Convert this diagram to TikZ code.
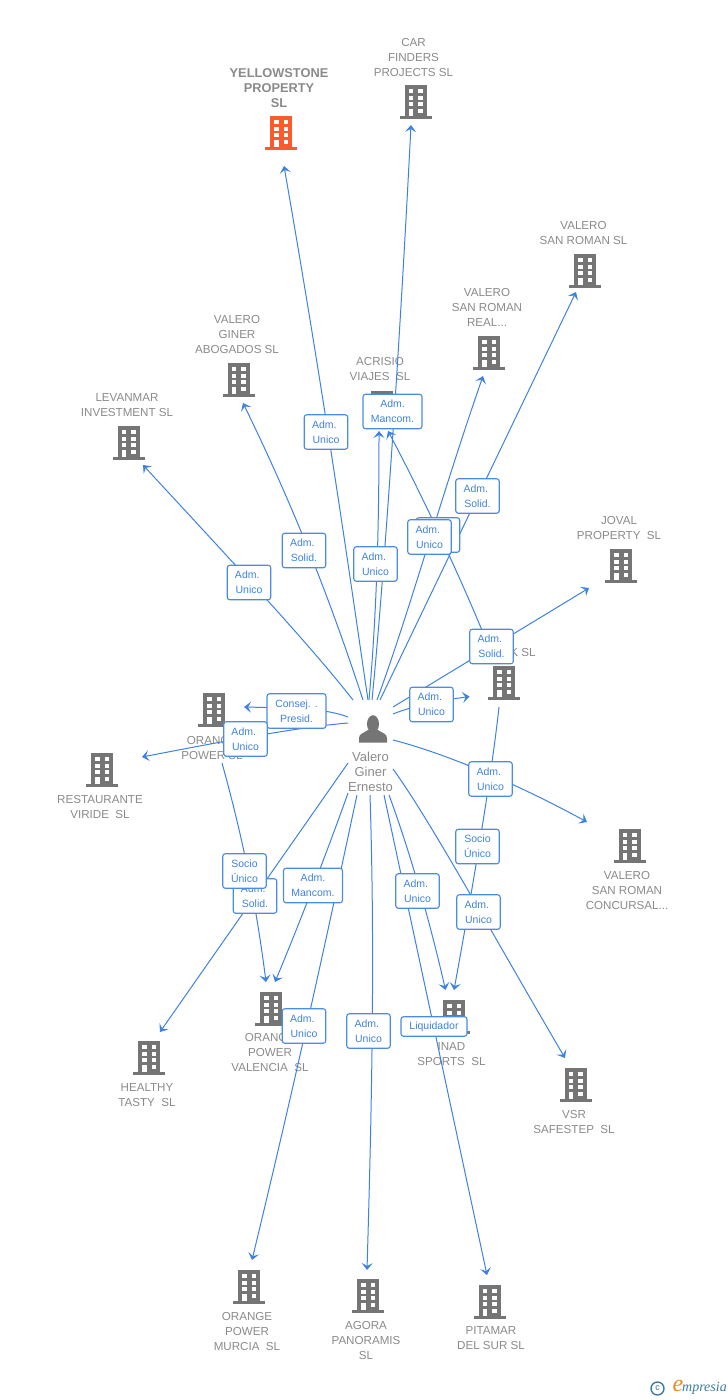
\documentclass[tikz,border=0pt]{standalone}
\usepackage{fontspec}
\setmainfont{Liberation Sans}
\newfontfamily\logoserif{Liberation Serif}
\usetikzlibrary{arrows.meta}
\definecolor{iconcol}{HTML}{757575}
\definecolor{hotcol}{HTML}{FF5A2B}
\definecolor{txtcol}{HTML}{8A8A8A}
\definecolor{linkcol}{HTML}{3D82E0}
\definecolor{boxcol}{HTML}{4A8BE3}
\definecolor{boxtxt}{HTML}{3F83DF}
\definecolor{logoblue}{HTML}{3A7C9E}
\definecolor{logoorange}{HTML}{F0861E}
\newcommand\Adm{Adm.\hspace*{3.5pt}}
\tikzset{
  conn/.style={draw=linkcol,line width=1pt,-{Stealth[width=11pt,length=7pt,inset=3pt]}},
  relbox/.style={draw=boxcol,line width=1.1pt,fill=white,rounded corners=2.5pt,inner sep=0pt,
    minimum width=43.5pt,minimum height=34.5pt,align=center,text=boxtxt,
    font=\fontsize{10.5}{15}\selectfont},
  widebox/.style={relbox,minimum width=59pt},
  liqbox/.style={relbox,minimum width=66pt,minimum height=19.5pt},
  namelbl/.style={text=txtcol,align=center,inner sep=0pt,yshift=-0.7pt,font=\fontsize{11.6}{15}\selectfont},
  boldlbl/.style={namelbl,font=\fontsize{12.8}{15}\selectfont\bfseries},
  perlbl/.style={namelbl,font=\fontsize{13}{15}\selectfont},
  bldnode/.style={minimum width=32pt,minimum height=34pt,inner sep=0pt},
  pics/bld/.style={code={
    \fill[#1] (-11,-17) rectangle (11,15);
    \fill[#1] (-16,14) rectangle (16,17);
    \foreach \yy in {-13,-6.5,0}{
      \fill[white] (-7,\yy) rectangle (-2.5,\yy+4);
      \fill[white] (2.5,\yy) rectangle (7,\yy+4);
    }
    \fill[white] (-7,6.5) rectangle (-2.5,14);
    \fill[white] (2.5,6.5) rectangle (7,10.5);
  }}
}
\begin{document}
\begin{tikzpicture}[x=1pt,y=-1pt]
\useasboundingbox (0,0) rectangle (728,1400);
% buildings
\foreach \nm/\cx/\cy/\cl in {
  byellow/281/133/hotcol, bcar/415.5/102/iconcol, bsrsl/585/271/iconcol, breal/489/353/iconcol,
  bginer/238.5/380/iconcol, bacrisio/382/408/iconcol, blevan/128.5/443/iconcol, bjoval/621/566/iconcol,
  bk/504/683/iconcol, borange/214/710/iconcol, brest/102/770/iconcol, bconc/629.5/846/iconcol,
  bvalencia/271/1009/iconcol, binad/454/1017/iconcol, bhealthy/149/1058/iconcol, bvsr/575.5/1085/iconcol,
  bmurcia/249/1287/iconcol, bagora/368/1296/iconcol, bpitamar/489.5/1302/iconcol}{
  \node[bldnode] (\nm) at (\cx,\cy) {};
  \pic at (\cx,\cy) {bld=\cl};
}
% names
\node[boldlbl] (lyellow) at (279,87) {YELLOWSTONE\\PROPERTY\\SL};
\node[namelbl] (lcar) at (413.5,57) {CAR\\FINDERS\\PROJECTS SL};
\node[namelbl] (lsrsl) at (583.5,232.5) {VALERO\\SAN ROMAN SL};
\node[namelbl] (lreal) at (487,307) {VALERO\\SAN ROMAN\\REAL...};
\node[namelbl] (lginer) at (237,334) {VALERO\\GINER\\ABOGADOS SL};
\node[namelbl] (lacrisio) at (380,368.5) {ACRISIO\\VIAJES\ \ SL};
\node[namelbl] (llevan) at (127,404.5) {LEVANMAR\\INVESTMENT SL};
\node[namelbl] (ljoval) at (619,527.5) {JOVAL\\PROPERTY\ \ SL};
\node[namelbl] (lk) at (523,652) {K SL};
\node[namelbl] (lorange) at (212,747) {ORANGE\\POWER SL};
\node[namelbl] (lrest) at (100,806.5) {RESTAURANTE\\VIRIDE\ \ SL};
\node[namelbl] (lconc) at (627,890) {VALERO\\SAN ROMAN\\CONCURSAL...};
\node[namelbl] (lvalencia) at (270,1052) {ORANGE\\POWER\\VALENCIA\ \ SL};
\node[namelbl] (linad) at (451.5,1053.5) {INAD\\SPORTS\ \ SL};
\node[namelbl] (lhealthy) at (147,1094.5) {HEALTHY\\TASTY\ \ SL};
\node[namelbl] (lvsr) at (574,1121.5) {VSR\\SAFESTEP\ \ SL};
\node[namelbl] (lmurcia) at (247,1331) {ORANGE\\POWER\\MURCIA\ \ SL};
\node[namelbl] (lagora) at (366,1340) {AGORA\\PANORAMIS\\SL};
\node[namelbl] (lpitamar) at (491,1337.5) {PITAMAR\\DEL SUR SL};
% person
\node[minimum width=28pt,minimum height=28pt,inner sep=0pt] (person) at (373,729) {};
\fill[iconcol] (373,724) ellipse (6 and 8.8);
\fill[iconcol] (359,742.5) -- (359,738) .. controls (359,733.5) and (364,733) .. (368,730) -- (378,730)
  .. controls (382,733) and (387,733.5) .. (387,738) -- (387,742.5) -- cycle;
\node[perlbl] (lperson) at (370.5,771) {Valero\\Giner\\Ernesto};
% connector ends
\foreach \nm/\xx/\yy in {
  s1/368/700, e1/284/166, s2/372/700, e2/411/125, s3/369/700, e3/379/431, s4/363/700, e4/243/403,
  s5/353/700, e5/143/465, s6/377/700, e6/483/376, s7/380/700, e7/576/292, s8/488/645, e8/388/431,
  s9/393/707, e9/589/588, s10/393/714, e10/469.5/696.5, s11/499/707, e11/454/990, s12/393/740, e12/587/822,
  s13/393/769, e13/565/1058, s14/384/795, e14/487/1275, s15/389/795, e15/445.5/990, s16/370/795, e16/367/1270,
  s17/357/795, e17/252/1260, s18/348/793, e18/275/982, s19/222/763, e19/266/982, s20/348/763, e20/160/1032,
  s21/348/717, e21/244/707, s22/348/723, e22/142/757}{
  \coordinate (\nm) at (\xx,\yy);
}
% connectors
\draw[conn] (s1) .. controls (356,620) and (330,430) .. (e1);
\draw[conn] (s2) .. controls (382,600) and (398,380) .. (e2);
\draw[conn] (s3) .. controls (376,620) and (379,540) .. (e3);
\draw[conn] (s4) .. controls (340,630) and (305,530) .. (e4);
\draw[conn] (s5) .. controls (310,645) and (240,570) .. (e5);
\draw[conn] (s6) .. controls (410,610) and (440,500) .. (e6);
\draw[conn] (s7) -- (e7);
\draw[conn] (s8) .. controls (470,600) and (430,510) .. (e8);
\draw[conn] (s9) -- (e9);
\draw[conn] (s10) .. controls (415,705) and (445,700) .. (e10);
\draw[conn] (s11) .. controls (490,790) and (465,930) .. (e11);
\draw[conn] (s12) .. controls (440,752) and (510,780) .. (e12);
\draw[conn] (s13) .. controls (430,820) and (490,930) .. (e13);
\draw[conn] (s14) -- (e14);
\draw[conn] (s15) .. controls (402,830) and (425,900) .. (e15);
\draw[conn] (s16) .. controls (375,950) and (372,1100) .. (e16);
\draw[conn] (s17) .. controls (345,850) and (310,1020) .. (e17);
\draw[conn] (s18) .. controls (335,830) and (305,910) .. (e18);
\draw[conn] (s19) .. controls (235,810) and (253,880) .. (e19);
\draw[conn] (s20) -- (e20);
\draw[conn] (s21) .. controls (325,708) and (290,708) .. (e21);
\draw[conn] (s22) .. controls (300,727) and (230,740) .. (e22);
% relation labels
\node[relbox] (r1) at (326,432) {\Adm\\Unico};
\node[widebox] (r2) at (392.5,411.5) {Adm.\\Mancom.};
\node[relbox] (r3) at (375.5,564) {\Adm\\Unico};
\node[relbox] (r4) at (304,550.5) {\Adm\\Solid.};
\node[relbox] (r5) at (249,582.5) {\Adm\\Unico};
\node[relbox] (r8) at (438,535) {};
\node[relbox] (r6) at (429.5,537) {\Adm\\Unico};
\node[relbox] (r7) at (477.5,496) {\Adm\\Solid.};
\node[relbox] (r9) at (491.5,646.5) {\Adm\\Solid.};
\node[relbox] (r10) at (431.5,704.5) {\Adm\\Unico};
\node[widebox] (r21) at (296.5,711) {Consej. .\\Presid.};
\node[relbox] (r22) at (245.5,739) {\Adm\\Unico};
\node[relbox] (r12) at (490.5,779) {\Adm\\Unico};
\node[relbox] (r11) at (477.5,846.5) {Socio\\Único};
\node[relbox] (r13) at (478.5,912) {\Adm\\Unico};
\node[relbox] (r20) at (255,896) {\Adm\\Solid.};
\node[relbox] (r19) at (244.5,871) {Socio\\Único};
\node[widebox] (r18) at (313,885.5) {Adm.\\Mancom.};
\node[relbox] (r17) at (304,1026) {\Adm\\Unico};
\node[relbox] (r16) at (368.5,1031) {\Adm\\Unico};
\node[liqbox] (r14) at (434,1026.5) {Liquidador};
\node[relbox] (r15) at (417.5,891) {\Adm\\Unico};
% logo
\node[circle,draw=logoblue,line width=1.4pt,minimum size=13pt,inner sep=0pt,text=logoblue,font=\fontsize{9}{9}\selectfont] (logoc) at (657.5,1388.5) {c};
\node[inner sep=0pt,text=logoorange,font=\logoserif\itshape\fontsize{24}{24}\selectfont] (logoe) at (678,1386) {e};
\node[inner sep=0pt,text=logoblue,font=\logoserif\itshape\fontsize{14}{14}\selectfont,anchor=west] (logot) at (682,1388) {mpresia};
\end{tikzpicture}
\end{document}
